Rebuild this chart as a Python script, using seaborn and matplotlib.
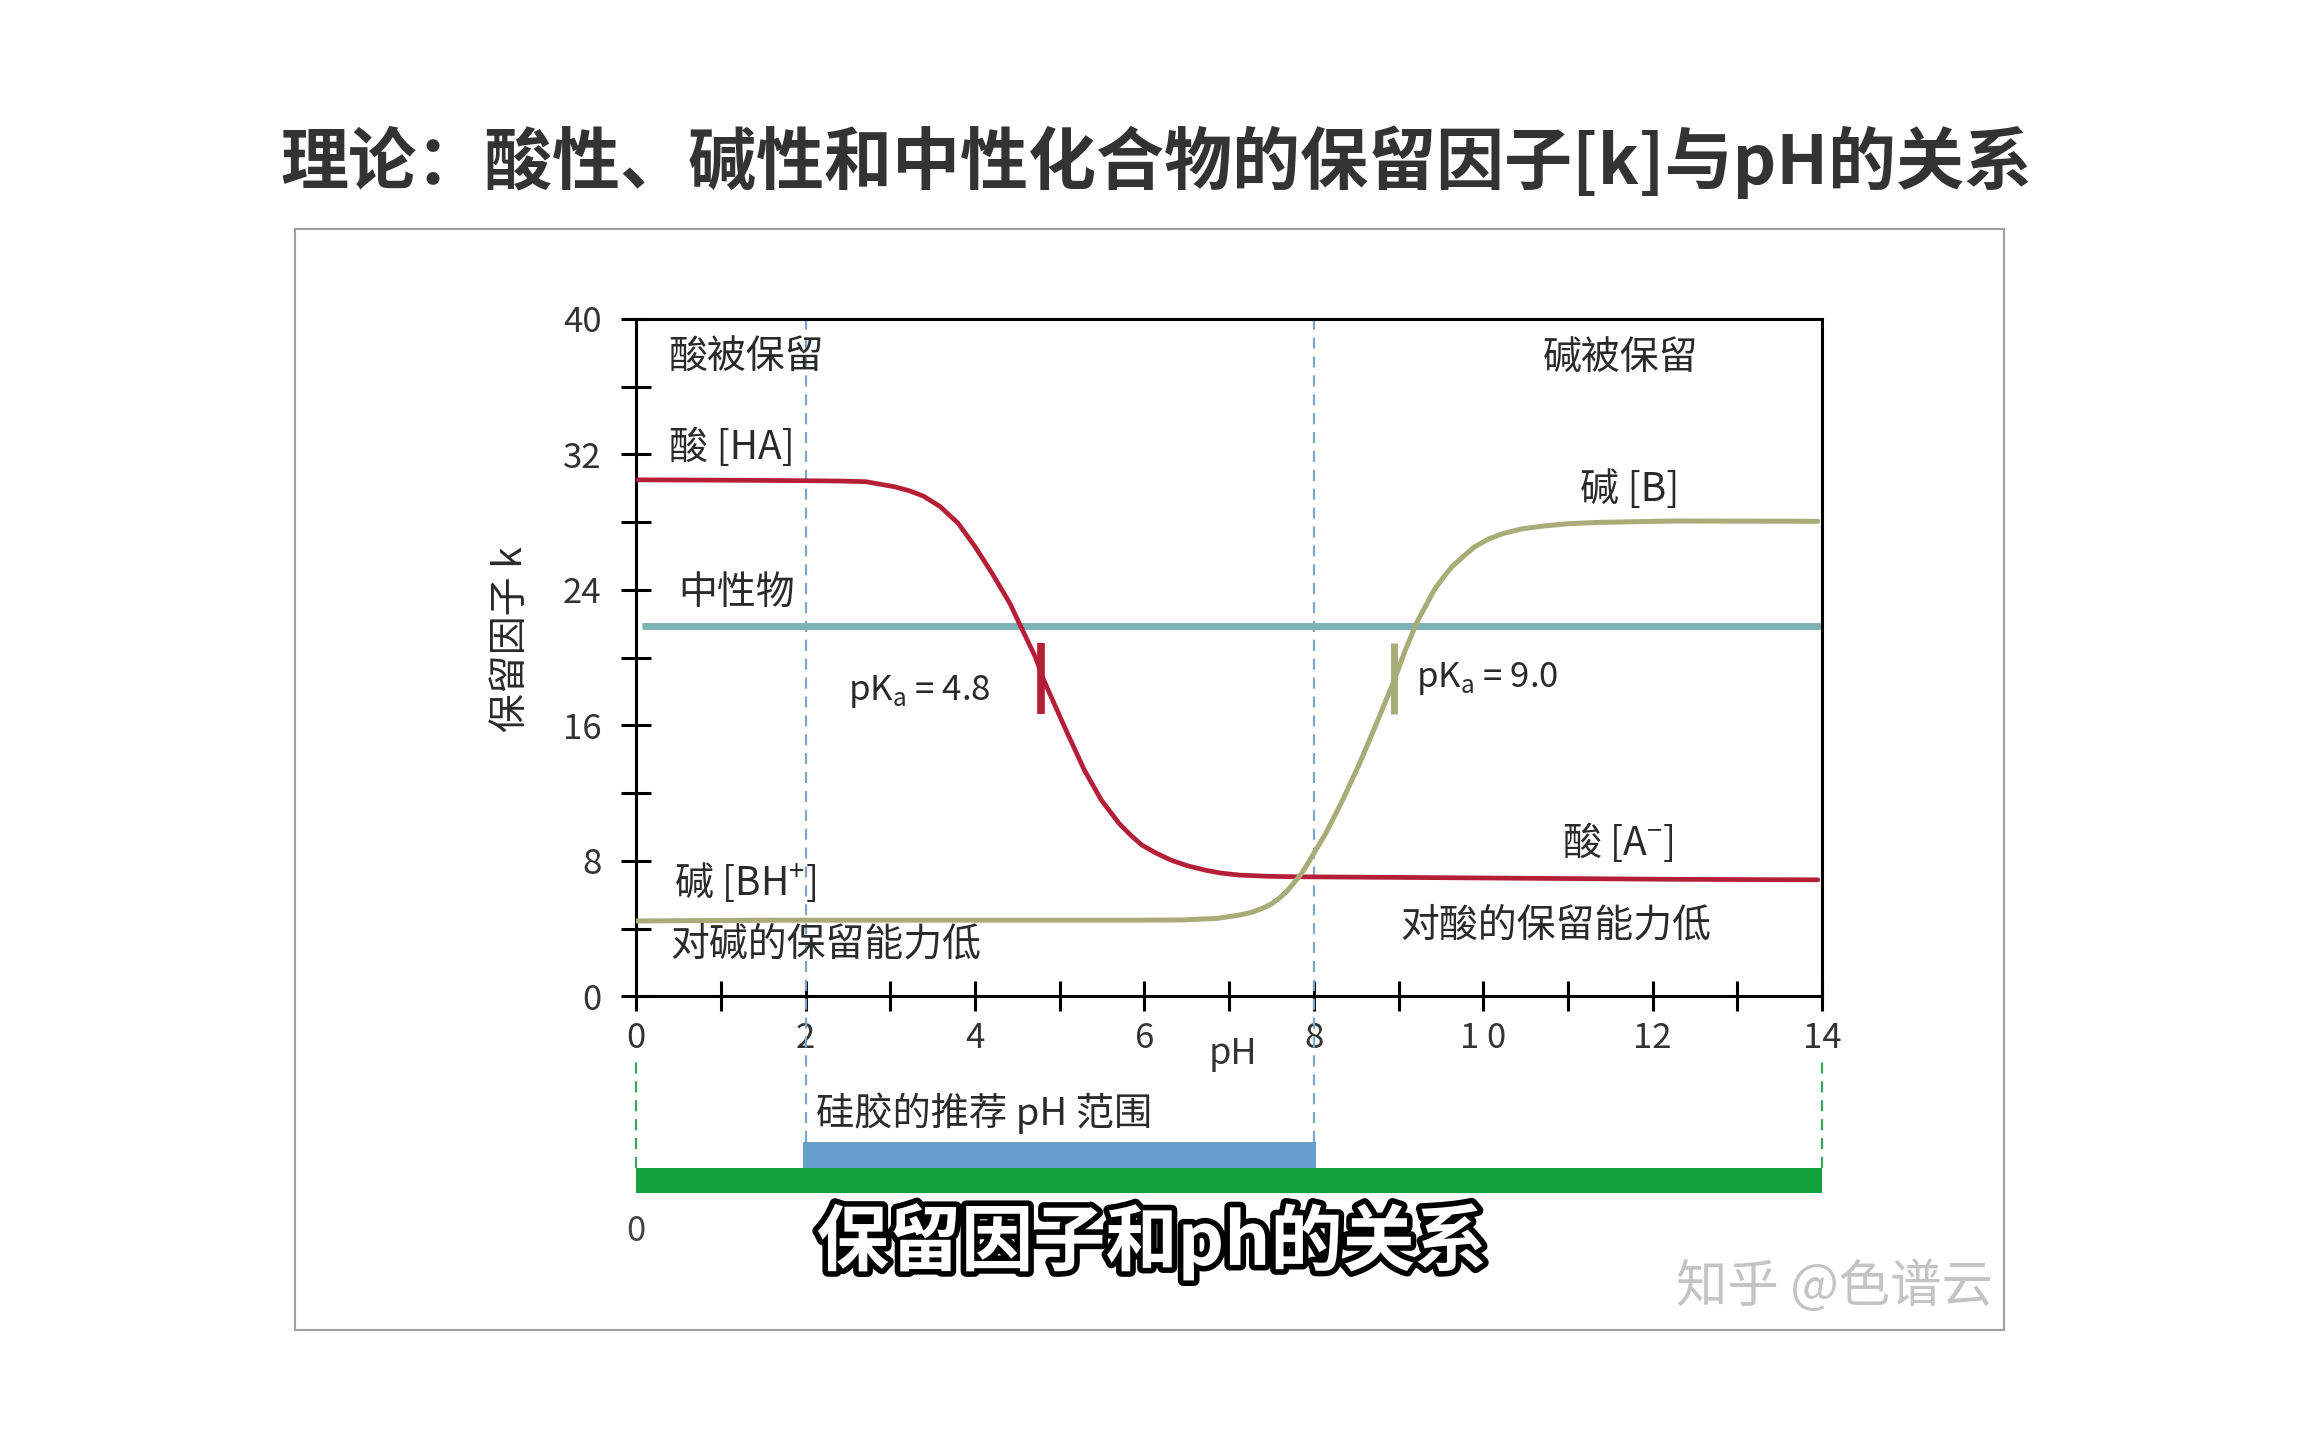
import numpy as np
import pandas as pd
import matplotlib
matplotlib.use("Agg")
import matplotlib.pyplot as plt
import seaborn as sns
from matplotlib.ticker import MultipleLocator, FixedLocator, FixedFormatter
from matplotlib.patches import Rectangle
import matplotlib.patheffects as pe

# ---------------- data ----------------
acid_ph = [0.0, 1.0, 1.97, 2.4, 2.71, 3.05, 3.22, 3.39, 3.59, 3.80, 4.00, 4.20, 4.41,
           4.54, 4.71, 4.81, 4.95, 5.09, 5.29, 5.49, 5.70, 5.84, 5.97, 6.14, 6.31,
           6.50, 6.71, 6.90, 7.12, 7.45, 7.80, 9.10, 12.27, 13.95]
acid_k = [30.5, 30.48, 30.45, 30.43, 30.39, 30.09, 29.86, 29.54, 28.91, 27.93, 26.55, 24.98, 23.21,
          21.83, 20.05, 18.68, 17.10, 15.53, 13.36, 11.59, 10.21, 9.50, 8.93, 8.45, 8.05,
          7.72, 7.46, 7.28, 7.16, 7.09, 7.06, 7.02, 6.91, 6.88]

base_ph = [0.0, 1.70, 4.0, 6.0, 6.44, 6.85, 7.12, 7.27, 7.39, 7.50, 7.59, 7.68, 7.76, 7.85,
           7.93, 8.03, 8.14, 8.34, 8.54, 8.74, 8.95, 9.08, 9.22, 9.42, 9.53, 9.63, 9.77,
           9.90, 10.06, 10.24, 10.45, 10.71, 11.0, 11.39, 12.27, 13.95]
base_k = [4.45, 4.5, 4.5, 4.5, 4.51, 4.60, 4.80, 4.97, 5.19, 5.46, 5.79, 6.20, 6.67, 7.23,
          7.85, 8.70, 9.62, 11.59, 13.76, 16.12, 18.68, 20.45, 22.12, 23.99, 24.75, 25.37, 26.0,
          26.55, 27.0, 27.34, 27.60, 27.77, 27.91, 27.99, 28.07, 28.05]

neutral_ph = [0.07, 14.0]
neutral_k = [21.85, 21.85]

pka_acid = 4.78
pka_base = 8.95
pka_mark_k = [16.7, 20.85]

guide_ph = [2.0, 8.0]          # blue dashed guides
edge_ph = [0.0, 14.0]          # green dashed guides
silica_range = [1.97, 8.03]    # recommended pH range for silica
full_range = [0.0, 14.0]

xtick_values = [0, 2, 4, 6, 8, 10, 12, 14]
xtick_labels = ["0", "2", "4", "6", "8", "1 0", "12", "14"]
ytick_values = [0, 8, 16, 24, 32, 40]
ytick_labels = ["0", "8", "16", "24", "32", "40"]

RED = "#b41e36"
OLIVE = "#a8ac78"
TEAL = "#7db2b4"
GUIDE = "#7ea6c9"
BLUE_BAR = "#689ecc"
GREEN_BAR = "#12a03c"
GREEN_DASH = "#3aa35a"
TXT = "#2a2a2a"

# ---------------- style ----------------
sns.set_theme(style="white")
plt.rcParams['font.family'] = ['Noto Sans CJK SC', 'DejaVu Sans']
plt.rcParams['mathtext.fontset'] = 'dejavusans'
plt.rcParams['axes.unicode_minus'] = False

fig = plt.figure(figsize=(23.04, 14.4), dpi=100)
fig.patch.set_facecolor("white")
ax = fig.add_axes([0.2762, 0.3081, 0.5146, 0.4704])
ax.set_facecolor("white")

df_acid = pd.DataFrame({"pH": acid_ph, "k": acid_k})
df_base = pd.DataFrame({"pH": base_ph, "k": base_k})
df_neutral = pd.DataFrame({"pH": neutral_ph, "k": neutral_k})

# guides (behind curves)
ax.vlines(guide_ph, -8.6, 40, colors=GUIDE, linestyles=(0, (5, 3.5)), linewidth=1.6,
          clip_on=False, zorder=1)
ax.vlines(edge_ph, -10.15, -3.7, colors=GREEN_DASH, linestyles=(0, (5, 3.5)), linewidth=1.6,
          clip_on=False, zorder=1)

sns.lineplot(data=df_neutral, x="pH", y="k", ax=ax, color=TEAL, linewidth=5.0,
             estimator=None, sort=False, zorder=2, solid_capstyle="butt")
sns.lineplot(data=df_acid, x="pH", y="k", ax=ax, color=RED, linewidth=3.4,
             estimator=None, sort=False, zorder=3, solid_joinstyle="round")
sns.lineplot(data=df_base, x="pH", y="k", ax=ax, color=OLIVE, linewidth=3.6,
             estimator=None, sort=False, zorder=3, solid_joinstyle="round")

# pKa marks
ax.plot([pka_acid, pka_acid], pka_mark_k, color=RED, linewidth=5.5, solid_capstyle="butt", zorder=4)
ax.plot([pka_base, pka_base], pka_mark_k, color=OLIVE, linewidth=5.0, solid_capstyle="butt", zorder=4)

# bars under the axis
b1 = ax.barh([-9.375], [silica_range[1] - silica_range[0]], left=silica_range[0], height=1.55,
             color=BLUE_BAR, edgecolor="none", zorder=2)
b2 = ax.barh([-10.89], [full_range[1] - full_range[0]], left=full_range[0], height=1.48,
             color=GREEN_BAR, edgecolor="none", zorder=2)
for bar in list(b1) + list(b2):
    bar.set_clip_on(False)

# axes formatting
ax.set_xlim(0, 14)
ax.set_ylim(0, 40)
for s in ax.spines.values():
    s.set_color("black")
    s.set_linewidth(2.2)
    s.set_visible(True)
ax.xaxis.set_major_locator(FixedLocator(xtick_values))
ax.xaxis.set_major_formatter(FixedFormatter(xtick_labels))
ax.xaxis.set_minor_locator(MultipleLocator(1))
ax.yaxis.set_major_locator(FixedLocator(ytick_values))
ax.yaxis.set_major_formatter(FixedFormatter(ytick_labels))
ax.yaxis.set_minor_locator(MultipleLocator(4))
ax.tick_params(which="both", direction="inout", length=22, width=2.2, color="black",
               bottom=True, left=True, top=False, right=False)
ax.tick_params(axis="x", which="major", labelsize=25, labelcolor="#333333", pad=7)
ax.tick_params(axis="y", which="major", labelsize=25, labelcolor="#333333", pad=14)
ax.set_xlabel("pH", fontsize=26, color="#333333")
ax.xaxis.set_label_coords(0.503, -0.058)
ax.set_ylabel("保留因子 k", fontsize=28, color=TXT)
ax.yaxis.set_label_coords(-0.089, 0.527)

# annotations in data space
fs = 28
ax.text(0.38, 37.7, "酸被保留", fontsize=fs, color=TXT, ha="left", va="center")
ax.text(10.70, 37.7, "碱被保留", fontsize=fs, color=TXT, ha="left", va="center")
ax.text(0.38, 32.4, "酸 [HA]", fontsize=fs, color=TXT, ha="left", va="center")
ax.text(0.50, 23.8, "中性物", fontsize=fs, color=TXT, ha="left", va="center")
ax.text(2.50, 18.0, r"pK$_\mathregular{a}$ = 4.8", fontsize=25, color=TXT, ha="left", va="center")
ax.text(11.14, 29.9, "碱 [B]", fontsize=fs, color=TXT, ha="left", va="center")
ax.text(9.21, 18.75, r"pK$_\mathregular{a}$ = 9.0", fontsize=25, color=TXT, ha="left", va="center")
ax.text(10.93, 9.1, r"酸 [A$^\mathregular{-}$]", fontsize=fs, color=TXT, ha="left", va="center")
ax.text(0.45, 6.77, r"碱 [BH$^\mathregular{+}$]", fontsize=fs, color=TXT, ha="left", va="center")
ax.text(0.40, 3.04, "对碱的保留能力低", fontsize=fs, color=TXT, ha="left", va="center")
ax.text(9.02, 4.16, "对酸的保留能力低", fontsize=fs, color=TXT, ha="left", va="center")
ax.text(2.12, -6.9, "硅胶的推荐 pH 范围", fontsize=27.5, color=TXT, ha="left", va="center", clip_on=False)
ax.text(0.0, -13.9, "0", fontsize=25, color="#444444", ha="center", va="center", clip_on=False)

# figure frame, title, caption, watermark
fig.add_artist(Rectangle((0.128, 0.0764), 0.7418, 0.7646, transform=fig.transFigure,
                         fill=False, edgecolor="#a0a0a0", linewidth=1.5))
fig.text(0.502, 0.8875, "理论：酸性、碱性和中性化合物的保留因子[k]与pH的关系",
         fontsize=49, fontweight="bold", color="#333333", ha="center", va="center")
fig.text(0.5, 0.1375, "保留因子和ph的关系", fontsize=52, fontweight="bold", color="white",
         ha="center", va="center",
         path_effects=[pe.withStroke(linewidth=8, foreground="black")])
fig.text(0.796, 0.106, "知乎 @色谱云", fontsize=37, color="#c4c4c4", ha="center", va="center")

fig.savefig("out.png", dpi=100, facecolor="white")
